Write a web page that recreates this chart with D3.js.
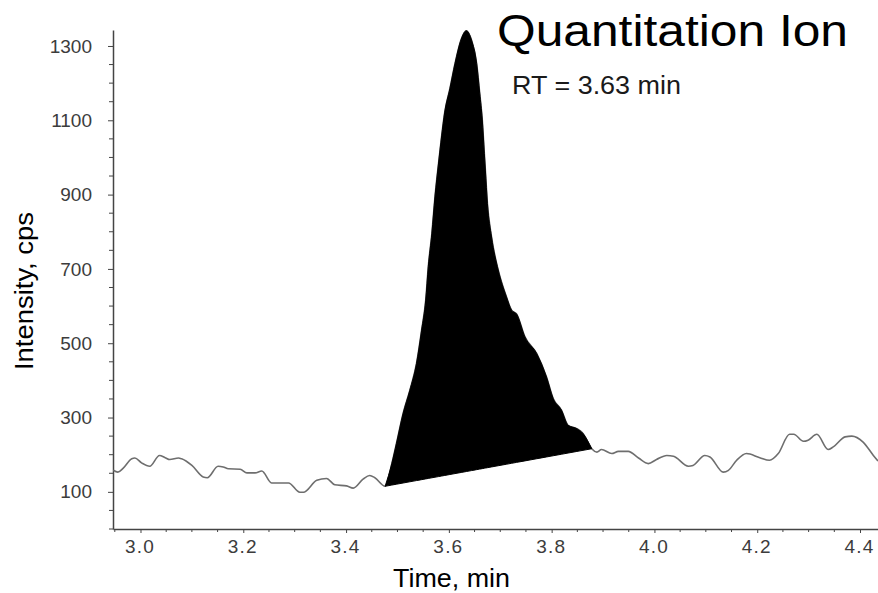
<!DOCTYPE html>
<html>
<head>
<meta charset="utf-8">
<script src="https://cdn.jsdelivr.net/npm/d3@7"></script>
<style>
  html, body { margin: 0; padding: 0; background: #fff; }
  svg { display: block; font-family: 'Liberation Sans', Arial, sans-serif; }
</style>
</head>
<body>
<div id="frame"></div>
<script>
const width = 878
const height = 593

// chromatogram trace
const time = [
  2.947, 2.956, 2.966, 2.983, 2.989, 3.002, 3.018, 3.037, 3.048, 3.057,
  3.074, 3.080, 3.100, 3.122, 3.130, 3.151, 3.161, 3.171, 3.194, 3.207,
  3.223, 3.236, 3.255, 3.288, 3.310, 3.317, 3.343, 3.362, 3.378, 3.401,
  3.414, 3.433, 3.446, 3.456, 3.476, 3.489, 3.498, 3.511, 3.524, 3.537,
  3.547, 3.555, 3.560, 3.567, 3.573, 3.580, 3.586, 3.592, 3.602, 3.612,
  3.624, 3.634, 3.644, 3.654, 3.660, 3.665, 3.669, 3.671, 3.675, 3.683,
  3.696, 3.712, 3.722, 3.732, 3.748, 3.771, 3.790, 3.803, 3.819, 3.832,
  3.849, 3.861, 3.878, 3.888, 3.897, 3.917, 3.930, 3.949, 3.969, 3.988,
  4.004, 4.024, 4.037, 4.066, 4.075, 4.098, 4.108, 4.134, 4.144, 4.160,
  4.179, 4.205, 4.224, 4.241, 4.263, 4.271, 4.290, 4.299, 4.316, 4.338,
  4.348, 4.371, 4.384, 4.406, 4.426, 4.435
]
const cps = [
  158, 153, 163, 189, 191, 178, 169, 198, 192, 187,
  191, 189, 171, 140, 138, 169, 167, 162, 161, 151,
  151, 156, 124, 124, 99, 99, 131, 136, 119, 116,
  110, 134, 144, 138, 115, 176, 230, 311, 373, 445,
  535, 616, 706, 796, 894, 985, 1058, 1122, 1185, 1253,
  1318, 1341, 1316, 1253, 1173, 1101, 1011, 966, 876, 786,
  697, 625, 589, 578, 517, 472, 409, 351, 320, 279,
  270, 257, 216, 207, 214, 203, 209, 209, 191, 176,
  187, 198, 196, 169, 171, 198, 194, 153, 158, 185,
  203, 192, 185, 203, 255, 255, 236, 239, 255, 214,
  221, 248, 250, 234, 198, 183
]

// integrated peak limits
const peakStart = 3.476
const peakEnd = 3.878

const xTicks = [3.0, 3.2, 3.4, 3.6, 3.8, 4.0, 4.2, 4.4]
const yTicks = [100, 300, 500, 700, 900, 1100, 1300]

const title = 'Quantitation Ion'
const rtLabel = 'RT = 3.63 min'
const xTitle = 'Time, min'
const yTitle = 'Intensity, cps'

const style = {
  axis: '#444444',
  tickText: '#3c3c3c',
  trace: '#6e6e6e',
  peak: '#000000'
}

const x = d3.scaleLinear().domain([2.9465, 4.435]).range([113, 878])
const y = d3.scaleLinear().domain([0, 1343]).range([529, 30])

const points = time.map((t, i) => ({ t, v: cps[i] }))
const peakPoints = points.filter(p => p.t >= peakStart && p.t <= peakEnd)
const first = peakPoints[0]
const last = peakPoints[peakPoints.length - 1]
const baseAt = t => first.v + (last.v - first.v) * (t - first.t) / (last.t - first.t)

const svg = d3.select('#frame')
  .append('svg')
  .attr('width', width)
  .attr('height', height)

// minor ticks
const xMinor = d3.range(2.95, 4.436, 0.05).filter(t => !xTicks.some(m => Math.abs(m - t) < 1e-6))
const yMinor = d3.range(0, 1301, 50).filter(v => !yTicks.includes(v))

svg.append('g')
  .selectAll('line')
  .data(xMinor)
  .join('line')
  .attr('x1', d => x(d)).attr('x2', d => x(d))
  .attr('y1', 529).attr('y2', 532)
  .attr('stroke', style.axis)
  .attr('stroke-width', 1)

svg.append('g')
  .selectAll('line')
  .data(yMinor)
  .join('line')
  .attr('y1', d => y(d)).attr('y2', d => y(d))
  .attr('x1', 109).attr('x2', 113)
  .attr('stroke', style.axis)
  .attr('stroke-width', 1)

const xAxis = svg.append('g')
  .attr('transform', 'translate(0,529)')
  .call(d3.axisBottom(x).tickValues(xTicks).tickFormat(d3.format('.1f')).tickSize(4).tickSizeOuter(0).tickPadding(7))
xAxis.select('.domain').attr('stroke', style.axis).attr('stroke-width', 1.5)
xAxis.selectAll('.tick line').attr('stroke', style.axis)
xAxis.selectAll('.tick text')
  .attr('fill', style.tickText)
  .attr('font-size', 19)
  .attr('font-family', "'Liberation Sans', Arial, sans-serif")
  .attr('letter-spacing', 1.2)
  .attr('dx', -1)

const yAxis = svg.append('g')
  .attr('transform', 'translate(113,0)')
  .call(d3.axisLeft(y).tickValues(yTicks).tickFormat(d3.format('d')).tickSize(5).tickSizeOuter(0).tickPadding(16))
yAxis.select('.domain').attr('stroke', style.axis).attr('stroke-width', 1.5)
yAxis.selectAll('.tick line').attr('stroke', style.axis)
yAxis.selectAll('.tick text')
  .attr('fill', style.tickText)
  .attr('font-size', 19)
  .attr('font-family', "'Liberation Sans', Arial, sans-serif")

// trace
const line = d3.line()
  .x(d => x(d.t))
  .y(d => y(d.v))
  .curve(d3.curveMonotoneX)

svg.append('path')
  .datum(points)
  .attr('d', line)
  .attr('fill', 'none')
  .attr('stroke', style.trace)
  .attr('stroke-width', 1.6)

// filled peak down to the drop line
const area = d3.area()
  .x(d => x(d.t))
  .y0(d => y(baseAt(d.t)))
  .y1(d => y(d.v))
  .curve(d3.curveMonotoneX)

svg.append('path')
  .datum(peakPoints)
  .attr('d', area)
  .attr('fill', style.peak)
  .attr('stroke', style.peak)
  .attr('stroke-width', 1)
  .attr('stroke-linejoin', 'round')

// texts
svg.append('text')
  .attr('x', 497)
  .attr('y', 46)
  .attr('font-size', 44)
  .attr('textLength', 351)
  .attr('lengthAdjust', 'spacingAndGlyphs')
  .attr('fill', '#000')
  .text(title)

svg.append('text')
  .attr('x', 512)
  .attr('y', 94)
  .attr('font-size', 25)
  .attr('textLength', 169)
  .attr('lengthAdjust', 'spacingAndGlyphs')
  .attr('fill', '#1a1a1a')
  .text(rtLabel)

svg.append('text')
  .attr('x', 393)
  .attr('y', 587)
  .attr('font-size', 26)
  .attr('textLength', 117)
  .attr('lengthAdjust', 'spacingAndGlyphs')
  .attr('fill', '#000')
  .text(xTitle)

svg.append('text')
  .attr('transform', 'translate(33,291) rotate(-90)')
  .attr('text-anchor', 'middle')
  .attr('font-size', 26)
  .attr('textLength', 158)
  .attr('lengthAdjust', 'spacingAndGlyphs')
  .attr('fill', '#000')
  .text(yTitle)
</script>
</body>
</html>
